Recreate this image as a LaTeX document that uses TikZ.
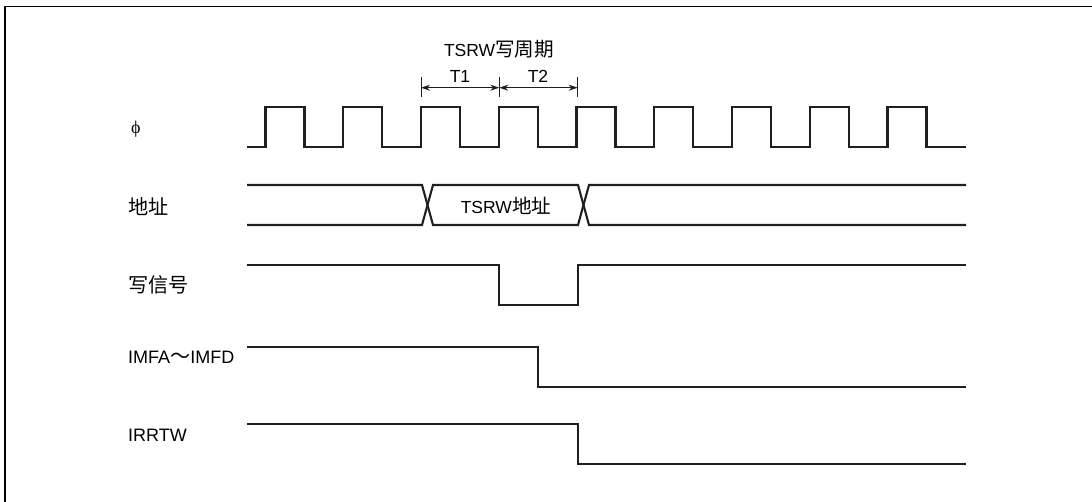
\documentclass[tikz,border=0pt]{standalone}
\usepackage{fontspec}
\setmainfont{Liberation Sans}
\newfontfamily\cjk{Noto Sans CJK SC}[Scale=1.12]
\newfontfamily\grk{Liberation Serif}
\usetikzlibrary{arrows.meta}
\begin{document}
\begin{tikzpicture}[x=1pt,y=-1pt,
  sig/.style={line width=2.1pt, color=black!88},
  frameline/.style={line width=1.5pt, color=black},
  dimline/.style={line width=1pt, color=black!88},
  dimarrow/.style={line width=1pt, color=black!88, {Stealth[length=9pt,width=6pt]}-{Stealth[length=9pt,width=6pt]}},
  lab/.style={anchor=west, inner sep=0pt, font=\fontsize{18}{20}\selectfont},
  toplab/.style={inner sep=0pt, font=\fontsize{17.5}{19}\selectfont}]
\useasboundingbox (0,0) rectangle (1092,502);
% frame
\draw[frameline] (5,502) -- (5,6.7) -- (1092,6.7);
% labels
\node[lab] (phi) at (131,129) {\grk ϕ};
\node[lab] (addr) at (128,207) {\cjk 地址};
\node[lab] (wr) at (128,285) {\cjk 写信号};
\node[lab] (imf) at (128,357) {IMFA{\cjk ～}IMFD};
\node[lab] (irr) at (128,435) {IRRTW};
\node[toplab] (title) at (499,49.5) {TSRW{\cjk 写周期}};
\node[toplab] (T1) at (460,76) {T1};
\node[toplab] (T2) at (538,76) {T2};
\node[toplab] (ta) at (506,206) {TSRW{\cjk 地址}};
% dimension
\coordinate (k0) at (421,77);
\coordinate (k1) at (499.3,77);
\coordinate (k2) at (577.7,77);
\coordinate (a0) at (421,87.7);
\coordinate (a1) at (499.3,87.7);
\coordinate (a2) at (577.7,87.7);
\draw[dimline] (k0) -- ++(0,20);
\draw[dimline] (k1) -- ++(0,20);
\draw[dimline] (k2) -- ++(0,20);
\draw[dimarrow] (a0) -- (a1);
\draw[dimarrow] (a1) -- (a2);
% clock
\draw[sig] (247,147) foreach \k in {0,...,8} { -- ({265.5+77.75*\k},147) -- ({265.5+77.75*\k},107) -- ({304.5+77.75*\k},107) -- ({304.5+77.75*\k},147) } -- (966,147);
% address bus
\draw[sig] (247,185) -- (422,185) -- (433,225) -- (578,225) -- (589,185) -- (966,185);
\draw[sig] (247,225) -- (422,225) -- (433,185) -- (578,185) -- (589,225) -- (966,225);
% write signal
\draw[sig] (247,265) -- (499.3,265) -- (499.3,305) -- (577.7,305) -- (577.7,265) -- (966,265);
% IMFA-IMFD
\draw[sig] (247,347) -- (538,347) -- (538,387) -- (966,387);
% IRRTW
\draw[sig] (247,424) -- (577.7,424) -- (577.7,464) -- (966,464);
\end{tikzpicture}
\end{document}
